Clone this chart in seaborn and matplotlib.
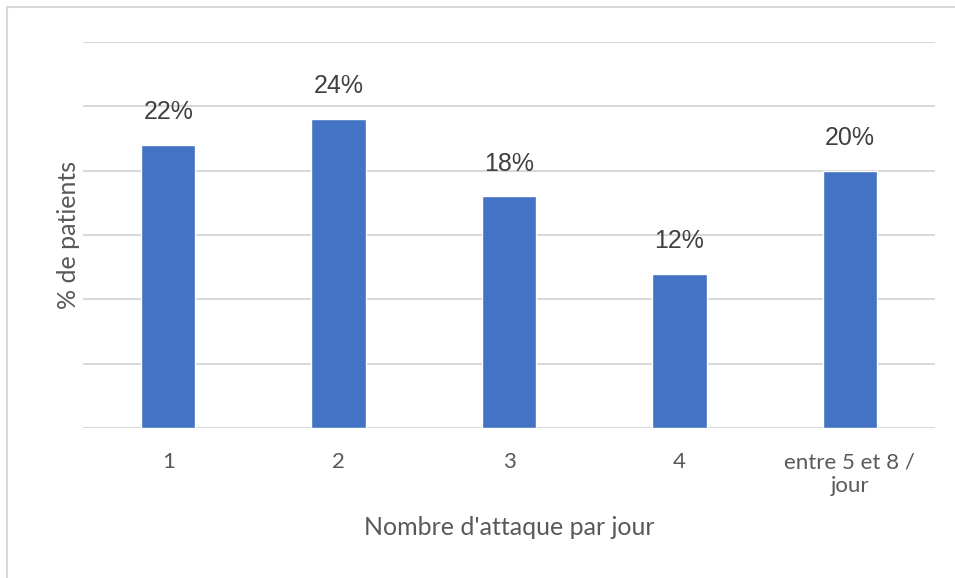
import matplotlib
matplotlib.use("Agg")
import matplotlib.pyplot as plt
import seaborn as sns
import pandas as pd

# Data
categories = ["1", "2", "3", "4", "entre 5 et 8 /\njour"]
percent = [22, 24, 18, 12, 20]
labels = ["22%", "24%", "18%", "12%", "20%"]

df = pd.DataFrame({"cat": categories, "pct": percent})

sns.set_style("white")
plt.rcParams["font.family"] = ["Lato", "DejaVu Sans"]

text_grey = "#595959"
fig = plt.figure(figsize=(9.55, 5.78), dpi=100)
ax = fig.add_axes([83 / 955, 1 - 428 / 578, (935 - 83) / 955, (428 - 42) / 578])

sns.barplot(data=df, x="cat", y="pct", order=categories, color="#4472C4",
            width=0.32, saturation=1, ax=ax, zorder=3)

ax.set_ylim(0, 30)
ax.set_yticks([0, 5, 10, 15, 20, 25, 30])
ax.yaxis.grid(True, color="#D9D9D9", linewidth=1.5, zorder=0)
ax.set_axisbelow(True)
ax.tick_params(axis="y", left=False, labelleft=False)
ax.tick_params(axis="x", bottom=False, pad=14, labelsize=16, labelcolor=text_grey)
for t in ax.get_xticklabels():
    t.set_linespacing(1.25)
for s in ax.spines.values():
    s.set_visible(False)

for i, (v, lab) in enumerate(zip(percent, labels)):
    ax.annotate(lab, (i, v), xytext=(0, 15), textcoords="offset points",
                ha="center", va="bottom", fontsize=18, color="#404040",
                family=["Liberation Sans", "DejaVu Sans"])

ax.set_xlabel("Nombre d'attaque par jour", fontsize=18, color=text_grey, labelpad=14)
ax.set_ylabel("% de patients", fontsize=18, color=text_grey, labelpad=2)

# light frame around the chart area
fig.patches.append(plt.Rectangle((7 / 955, -0.01), 1.0, 1 - 7 / 578 + 0.01,
                                 transform=fig.transFigure, fill=False,
                                 edgecolor="#D9D9D9", linewidth=1.5))

fig.savefig("out.png", dpi=100)
